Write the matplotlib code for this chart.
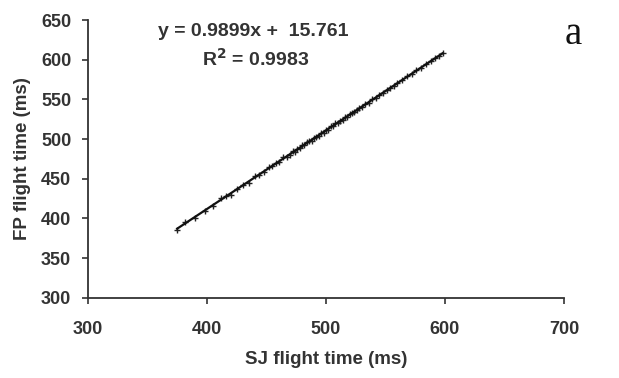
import numpy as np
import matplotlib
matplotlib.use("Agg")
import matplotlib.pyplot as plt

# SJ vs FP flight times (ms)
sj = [375, 382, 390, 398, 405, 412, 416, 420, 425, 430, 435, 440, 444, 448,
      452, 455, 458, 461, 464, 467, 470, 472, 474, 476, 478, 480, 482, 484,
      486, 488, 490, 492, 494, 496, 498, 500, 502, 504, 506, 508, 510, 512,
      514, 516, 518, 520, 522, 524, 526, 528, 530, 533, 536, 539, 542, 545,
      548, 551, 554, 557, 560, 564, 568, 572, 576, 580, 584, 588, 592, 595, 598]
fp = [386, 396, 401, 410, 416, 426, 428, 430, 437, 442, 445, 453, 455, 458,
      465, 466, 470, 471, 477, 478, 480, 485, 484, 488, 489, 492, 492, 496,
      497, 498, 502, 503, 504, 508, 508, 512, 512, 516, 516, 520, 520, 523,
      524, 528, 528, 531, 533, 534, 537, 539, 540, 544, 546, 550, 552, 556,
      558, 562, 564, 567, 571, 574, 579, 582, 587, 590, 594, 598, 602, 605, 608]

xticks = [300, 400, 500, 600, 700]
yticks = [300, 350, 400, 450, 500, 550, 600, 650]

plt.rcParams['font.family'] = ['Liberation Sans', 'DejaVu Sans']
grey = '#333333'

fig = plt.figure(figsize=(6.19, 3.78), dpi=100)
ax = fig.add_axes([0.142, 0.212, 0.769, 0.735])

x = np.array(sj)
y = np.array(fp)
ax.plot(x, y, linestyle='none', marker='+', markersize=4, color='#222222', mew=1.0)

slope, icpt = np.polyfit(x, y, 1)
xl = np.array([x.min(), x.max()])
ax.plot(xl, slope * xl + icpt, color='#111111', lw=1.6)

ax.set_xlim(300, 700)
ax.set_ylim(300, 650)
ax.set_xticks(xticks)
ax.set_yticks(yticks)
for s in ['top', 'right']:
    ax.spines[s].set_visible(False)
for s in ['left', 'bottom']:
    ax.spines[s].set_color(grey)
    ax.spines[s].set_linewidth(1.3)
ax.tick_params(direction='out', length=4, width=1.2, color=grey,
               labelsize=13, labelcolor=grey)
ax.tick_params(axis='x', pad=13)
ax.tick_params(axis='y', pad=8)
for lab in ax.get_xticklabels() + ax.get_yticklabels():
    lab.set_fontweight('bold')

ax.set_xlabel('SJ flight time (ms)', fontsize=13.5, fontweight='bold', color=grey, labelpad=9)
ax.set_ylabel('FP flight time (ms)', fontsize=13.5, fontweight='bold', color=grey, labelpad=7)

fig.text(253 / 619, 1 - 32 / 378, 'y = 0.9899x +  15.761', ha='center', va='center',
         fontsize=14, fontweight='bold', color=grey)
fig.text(256 / 619, 1 - 59 / 378, 'R$^\\mathbf{2}$ = 0.9983', ha='center', va='center',
         fontsize=14, fontweight='bold', color=grey)
fig.text(573 / 619, 1 - 34 / 378, 'a', ha='center', va='center', fontsize=28,
         family='Liberation Serif', color='#111111')

fig.savefig('out.png', dpi=100)
